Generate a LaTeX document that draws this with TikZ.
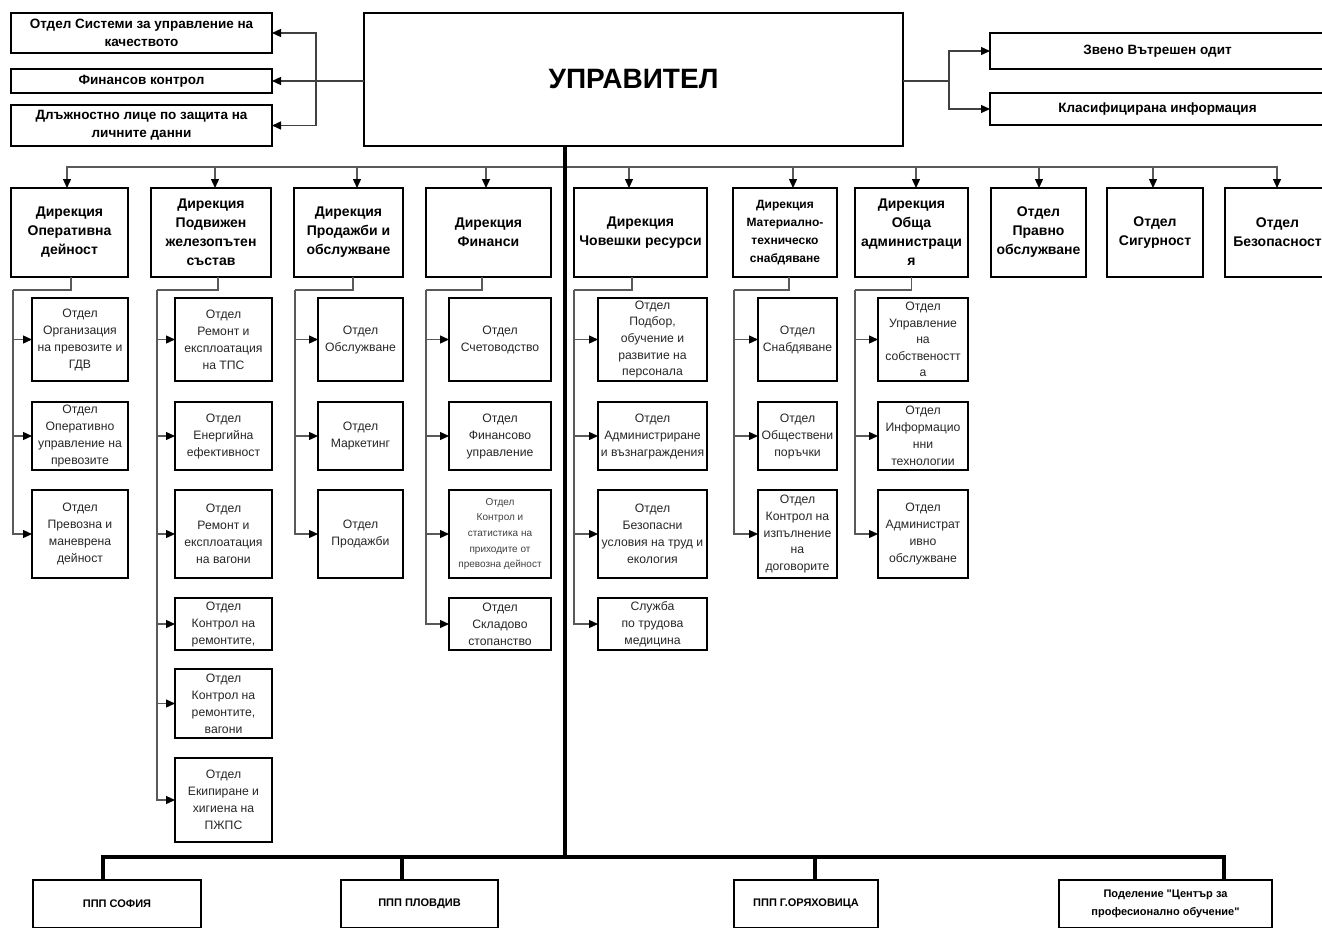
\documentclass[tikz,border=0pt]{standalone}
\usepackage{fontspec}
\setmainfont{Liberation Sans}[Ligatures=TeXOff]
\usetikzlibrary{arrows.meta}
\tikzset{
  every node/.style={inner sep=0pt, outer sep=0pt},
  box/.style={draw=black, line width=1.8pt, align=center, text=black!85, font=\fontsize{12.2}{17}\selectfont},
  boxtight/.style={box, font=\fontsize{12.2}{16.6}\selectfont},
  boxsmall/.style={box, font=\fontsize{10}{15.7}\selectfont, text=black!75},
  dirbox/.style={draw=black, line width=1.9pt, align=center, text=black, font=\bfseries\fontsize{14}{19}\selectfont},
  dirsmall/.style={dirbox, font=\bfseries\fontsize{12}{18}\selectfont},
  topbox/.style={draw=black, line width=1.8pt, align=center, text=black, font=\bfseries\fontsize{13.5}{18}\selectfont},
  botbox/.style={draw=black, line width=1.8pt, align=center, text=black, font=\bfseries\fontsize{11}{18}\selectfont},
  conn/.style={draw=black!65, line width=1.3pt},
  arr/.style={conn, -{Triangle[length=9pt,width=8pt,color=black]}},
  heavy/.style={draw=black, line width=4pt},
}
\begin{document}
\begin{tikzpicture}[x=1pt,y=-1pt]
\useasboundingbox (0,0) rectangle (1322,927);
\clip (0,0) rectangle (1322,927);

% ---- top level
\node[draw=black, line width=2pt, minimum width=539pt, minimum height=133pt, font=\bfseries\fontsize{28}{32}\selectfont, text=black] (mgr) at (633.5,79.5) {УПРАВИТЕЛ};

\node[topbox, minimum width=261pt, minimum height=40pt] (q1) at (141.5,33) {Отдел Системи за управление на\\качеството};
\node[topbox, minimum width=261pt, minimum height=24pt] (q2) at (141.5,81) {Финансов контрол};
\node[topbox, minimum width=261pt, minimum height=41pt] (q3) at (141.5,125.5) {Длъжностно лице по защита на\\личните данни};

\node[topbox, minimum width=335pt, minimum height=36pt] (r1) at (1157.5,51) {Звено Вътрешен одит};
\node[topbox, minimum width=335pt, minimum height=32pt] (r2) at (1157.5,109) {Класифицирана информация};

\coordinate (lj) at (316,81);
\coordinate (rj) at (949,81);
\draw[conn, draw=black!75] (mgr.west |- lj) -- (lj);
\foreach \t in {q1,q2,q3} \draw[arr, draw=black!75] (lj) |- (\t.east);
\draw[conn, draw=black!75] (mgr.east |- rj) -- (rj);
\foreach \t in {r1,r2} \draw[arr, draw=black!75] (rj) |- (\t.west);

% ---- directorates
\node[dirbox, minimum width=117pt, minimum height=89pt] (d1) at (69.5,232.5) {Дирекция\\Оперативна\\дейност};
\node[dirbox, minimum width=120pt, minimum height=89pt] (d2) at (211,232.5) {Дирекция\\Подвижен\\железопътен\\състав};
\node[dirbox, minimum width=109pt, minimum height=89pt] (d3) at (348.5,232.5) {Дирекция\\Продажби и\\обслужване};
\node[dirbox, minimum width=125pt, minimum height=89pt] (d4) at (488.5,232.5) {Дирекция\\Финанси};
\node[dirbox, minimum width=133pt, minimum height=89pt] (d5) at (640.5,232.5) {Дирекция\\Човешки ресурси};
\node[dirsmall, minimum width=104pt, minimum height=89pt] (d6) at (785,232.5) {Дирекция\\Материално-\\техническо\\снабдяване};
\node[dirbox, minimum width=113pt, minimum height=89pt] (d7) at (911.5,232.5) {Дирекция\\Обща\\администраци\\я};
\node[dirbox, minimum width=95pt, minimum height=89pt] (d8) at (1038.5,232.5) {Отдел\\Правно\\обслужване};
\node[dirbox, minimum width=96pt, minimum height=89pt] (d9) at (1155,232.5) {Отдел\\Сигурност};
\node[dirbox, minimum width=105pt, minimum height=89pt] (d10) at (1277.5,232.5) {Отдел\\Безопасност};

\coordinate (sp) at ([xshift=-68.5pt]mgr.south);
\coordinate (b0) at (565,167);
\coordinate (bb) at (565,857);

\draw[arr] (b0) -| ([xshift=-2.5pt]d1.north);
\draw[arr] (b0) -| ([xshift=4pt]d2.north);
\draw[arr] (b0) -| ([xshift=8.5pt]d3.north);
\draw[arr] (b0) -| ([xshift=-2.5pt]d4.north);
\draw[arr] (b0) -| ([xshift=-11.5pt]d5.north);
\draw[arr] (b0) -| ([xshift=8pt]d6.north);
\draw[arr] (b0) -| ([xshift=4.5pt]d7.north);
\draw[arr] (b0) -| ([xshift=0.5pt]d8.north);
\draw[arr] (b0) -| ([xshift=-2pt]d9.north);
\draw[arr] (b0) -| ([xshift=-0.5pt]d10.north);

% ---- column 1
\node[box, minimum width=96pt, minimum height=83pt] (c11) at (80,339.5) {Отдел\\Организация\\на превозите и\\ГДВ};
\node[box, minimum width=96pt, minimum height=68pt] (c12) at (80,436) {Отдел\\Оперативно\\управление на\\превозите};
\node[box, minimum width=96pt, minimum height=88pt] (c13) at (80,534) {Отдел\\Превозна и\\маневрена\\дейност};
% ---- column 2
\node[box, minimum width=97pt, minimum height=83pt] (c21) at (223.5,339.5) {Отдел\\Ремонт и\\експлоатация\\на ТПС};
\node[box, minimum width=97pt, minimum height=68pt] (c22) at (223.5,436) {Отдел\\Енергийна\\ефективност};
\node[box, minimum width=97pt, minimum height=88pt] (c23) at (223.5,534) {Отдел\\Ремонт и\\експлоатация\\на вагони};
\node[box, minimum width=97pt, minimum height=52pt] (c24) at (223.5,624) {Отдел\\Контрол на\\ремонтите,};
\node[box, minimum width=97pt, minimum height=69pt] (c25) at (223.5,703.5) {Отдел\\Контрол на\\ремонтите,\\вагони};
\node[box, minimum width=97pt, minimum height=84pt] (c26) at (223.5,800) {Отдел\\Екипиране и\\хигиена на\\ПЖПС};
% ---- column 3
\node[box, minimum width=85pt, minimum height=83pt] (c31) at (360.5,339.5) {Отдел\\Обслужване};
\node[box, minimum width=85pt, minimum height=68pt] (c32) at (360.5,436) {Отдел\\Маркетинг};
\node[box, minimum width=85pt, minimum height=88pt] (c33) at (360.5,534) {Отдел\\Продажби};
% ---- column 4
\node[box, minimum width=102pt, minimum height=83pt] (c41) at (500,339.5) {Отдел\\Счетоводство};
\node[box, minimum width=102pt, minimum height=68pt] (c42) at (500,436) {Отдел\\Финансово\\управление};
\node[boxsmall, minimum width=102pt, minimum height=88pt] (c43) at (500,534) {Отдел\\Контрол и\\статистика на\\приходите от\\превозна дейност};
\node[box, minimum width=102pt, minimum height=52pt] (c44) at (500,624) {Отдел\\Складово\\стопанство};
% ---- column 5
\node[boxtight, minimum width=109pt, minimum height=83pt] (c51) at (652.5,339.5) {Отдел\\Подбор,\\обучение и\\развитие на\\персонала};
\node[box, minimum width=109pt, minimum height=68pt] (c52) at (652.5,436) {Отдел\\Администриране\\и възнаграждения};
\node[box, minimum width=109pt, minimum height=88pt] (c53) at (652.5,534) {Отдел\\Безопасни\\условия на труд и\\екология};
\node[box, minimum width=109pt, minimum height=52pt] (c54) at (652.5,624) {Служба\\по трудова\\медицина};
% ---- column 6
\node[box, minimum width=79pt, minimum height=83pt] (c61) at (797.5,339.5) {Отдел\\Снабдяване};
\node[box, minimum width=79pt, minimum height=68pt] (c62) at (797.5,436) {Отдел\\Обществени\\поръчки};
\node[boxtight, minimum width=79pt, minimum height=88pt] (c63) at (797.5,534) {Отдел\\Контрол на\\изпълнение\\на\\договорите};
% ---- column 7
\node[boxtight, minimum width=90pt, minimum height=83pt] (c71) at (923,339.5) {Отдел\\Управление\\на\\собственостт\\а};
\node[box, minimum width=90pt, minimum height=68pt] (c72) at (923,436) {Отдел\\Информацио\\нни\\технологии};
\node[box, minimum width=90pt, minimum height=88pt] (c73) at (923,534) {Отдел\\Администрат\\ивно\\обслужване};

% ---- child connectors
\coordinate (j1) at (13,290);
\coordinate (j2) at (157,290);
\coordinate (j3) at (295,290);
\coordinate (j4) at (426,290);
\coordinate (j5) at (574,290);
\coordinate (j6) at (734,290);
\coordinate (j7) at (855,290);
\draw[conn] ([xshift=1.5pt]d1.south) |- (j1);
\draw[conn] ([xshift=7pt]d2.south) |- (j2);
\draw[conn] ([xshift=4.5pt]d3.south) |- (j3);
\draw[conn] ([xshift=-6.5pt]d4.south) |- (j4);
\draw[conn] ([xshift=-8.5pt]d5.south) |- (j5);
\draw[conn] ([xshift=4pt]d6.south) |- (j6);
\draw[conn] (d7.south) |- (j7);
\foreach \c in {c11,c12,c13} \draw[arr] (j1) |- (\c.west);
\foreach \c in {c21,c22,c23,c24,c25,c26} \draw[arr] (j2) |- (\c.west);
\foreach \c in {c31,c32,c33} \draw[arr] (j3) |- (\c.west);
\foreach \c in {c41,c42,c43,c44} \draw[arr] (j4) |- (\c.west);
\foreach \c in {c51,c52,c53,c54} \draw[arr] (j5) |- (\c.west);
\foreach \c in {c61,c62,c63} \draw[arr] (j6) |- (\c.west);
\foreach \c in {c71,c72,c73} \draw[arr] (j7) |- (\c.west);

% ---- bottom
\node[botbox, minimum width=168pt, minimum height=48pt] (p1) at (117,904) {ППП СОФИЯ};
\node[botbox, minimum width=157pt, minimum height=48pt] (p2) at (419.5,904) {ППП ПЛОВДИВ};
\node[botbox, minimum width=144pt, minimum height=48pt] (p3) at (806,904) {ППП Г.ОРЯХОВИЦА};
\node[botbox, minimum width=213pt, minimum height=48pt] (p4) at (1165.5,904) {Поделение "Център за\\професионално обучение"};

\draw[heavy] (sp) -- (bb);
\draw[heavy] (bb) -| ([xshift=-14pt]p1.north);
\draw[heavy] (bb) -| ([xshift=-17.5pt]p2.north);
\draw[heavy] (bb) -| ([xshift=9pt]p3.north);
\draw[heavy] (bb) -| ([xshift=58.5pt]p4.north);
\end{tikzpicture}
\end{document}
